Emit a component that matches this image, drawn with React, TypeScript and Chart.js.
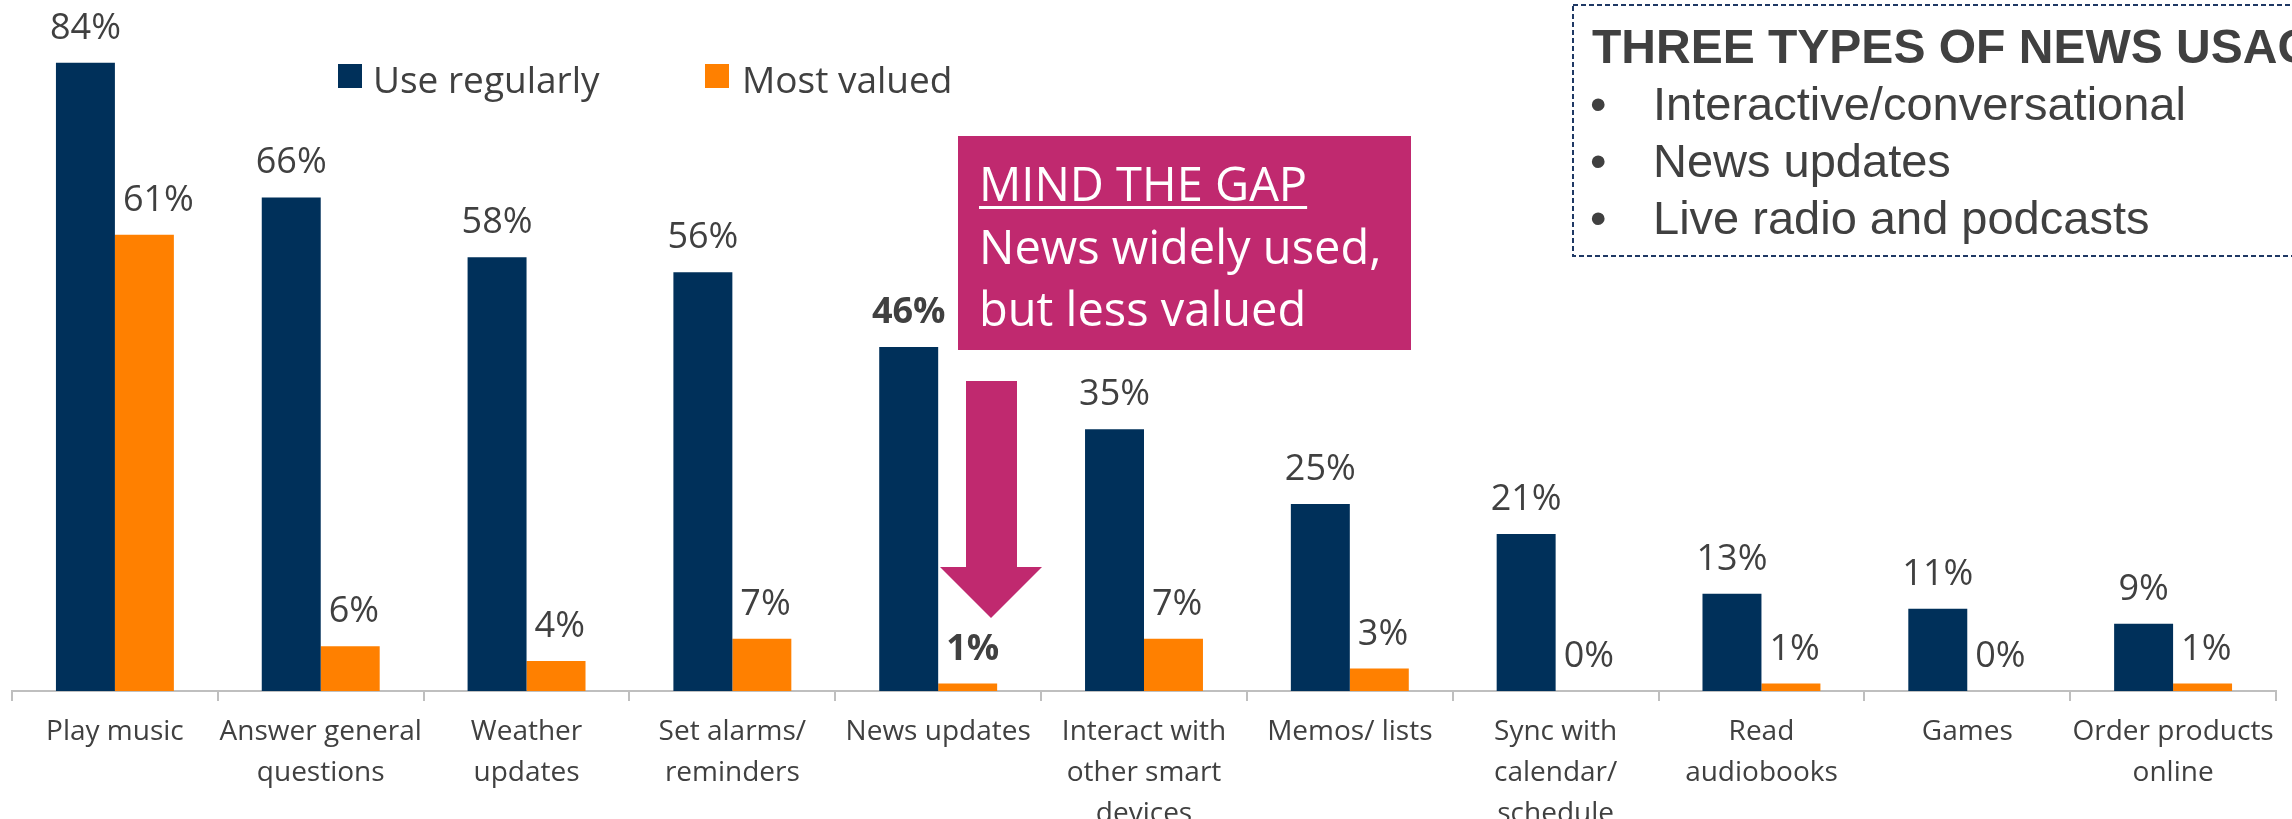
import { useEffect, useRef } from 'react';
import { Chart, registerables } from 'chart.js';

Chart.register(...registerables);

const categories: (string | string[])[] = [
  'Play music',
  ['Answer general', 'questions'],
  ['Weather', 'updates'],
  ['Set alarms/', 'reminders'],
  'News updates',
  ['Interact with', 'other smart', 'devices'],
  'Memos/ lists',
  ['Sync with', 'calendar/', 'schedule'],
  ['Read', 'audiobooks'],
  'Games',
  ['Order products', 'online'],
];
const useRegularly = [84, 66, 58, 56, 46, 35, 25, 21, 13, 11, 9];
const mostValued = [61, 6, 4, 7, 1, 7, 3, 0, 1, 0, 1];
const seriesNames = ['Use regularly', 'Most valued'];
const highlightIndex = 4;
const yMax = 90;

const boxTitle = 'THREE TYPES OF NEWS USAGE';
const boxBullets = ['Interactive/conversational', 'News updates', 'Live radio and podcasts'];
const gapTitle = 'MIND THE GAP';
const gapLines = ['News widely used,', 'but less valued'];

const NAVY = '#00305A';
const ORANGE = '#FF8000';
const MAGENTA = '#C0296F';
const TEXT = '#404040';
const FONT = '"Open Sans", sans-serif';

const labelsPlugin = {
  id: 'barLabels',
  afterDatasetsDraw(chart: any) {
    const ctx = chart.ctx;
    ctx.save();
    ctx.fillStyle = TEXT;
    ctx.textAlign = 'center';
    ctx.textBaseline = 'alphabetic';
    const navyMeta = chart.getDatasetMeta(0);
    chart.data.datasets.forEach((ds: any, di: number) => {
      const meta = chart.getDatasetMeta(di);
      meta.data.forEach((bar: any, i: number) => {
        const bold = i === highlightIndex;
        ctx.font = `${bold ? 'bold ' : ''}36px ${FONT}`;
        const txt = `${ds.data[i]}%`;
        const y = bar.y - 24;
        let x = bar.x;
        if (di === 1) {
          const nb = navyMeta.data[i];
          const w = ctx.measureText(txt).width;
          const navyRight = nb.x + nb.width / 2;
          if (nb.y < y && x - w / 2 < navyRight + 8) x = navyRight + 8 + w / 2;
        }
        ctx.fillText(txt, x, y);
      });
    });
    ctx.restore();
  },
};

const legendPlugin = {
  id: 'customLegend',
  afterDraw(chart: any) {
    const ctx = chart.ctx;
    ctx.save();
    const items = [
      { x: 338, textX: 373 },
      { x: 705, textX: 742 },
    ];
    chart.data.datasets.forEach((ds: any, di: number) => {
      const it = items[di];
      ctx.fillStyle = ds.backgroundColor;
      ctx.fillRect(it.x, 64, 24, 24);
      ctx.fillStyle = TEXT;
      ctx.font = `37px ${FONT}`;
      ctx.textAlign = 'left';
      ctx.textBaseline = 'alphabetic';
      ctx.fillText(ds.label, it.textX, 93);
    });
    ctx.restore();
  },
};

const annotationPlugin = {
  id: 'annotations',
  afterDraw(chart: any) {
    const ctx = chart.ctx;
    ctx.save();
    // Mind the gap box
    ctx.fillStyle = MAGENTA;
    ctx.fillRect(958, 136, 453, 214);
    ctx.fillStyle = '#FFFFFF';
    ctx.font = `47px ${FONT}`;
    ctx.textAlign = 'left';
    ctx.textBaseline = 'alphabetic';
    ctx.fillText(gapTitle, 979, 201);
    const w = ctx.measureText(gapTitle).width;
    ctx.fillRect(979, 206, w, 3);
    gapLines.forEach((l, i) => ctx.fillText(l, 979, 264 + i * 62));

    // Arrow
    ctx.fillStyle = MAGENTA;
    ctx.beginPath();
    ctx.moveTo(966, 381);
    ctx.lineTo(1017, 381);
    ctx.lineTo(1017, 567);
    ctx.lineTo(1042, 567);
    ctx.lineTo(991, 618);
    ctx.lineTo(940, 567);
    ctx.lineTo(966, 567);
    ctx.closePath();
    ctx.fill();

    // Dashed box
    ctx.strokeStyle = '#1F3864';
    ctx.lineWidth = 2;
    ctx.setLineDash([5, 3]);
    ctx.strokeRect(1573, 5, 760, 251);
    ctx.setLineDash([]);
    ctx.fillStyle = TEXT;
    ctx.font = `bold 48px "Liberation Sans", Arial, sans-serif`;
    ctx.fillText(boxTitle, 1592, 63);
    ctx.font = `47px "Liberation Sans", Arial, sans-serif`;
    boxBullets.forEach((b, i) => {
      const y = 120 + i * 57;
      ctx.fillText('\u2022', 1590, y);
      ctx.fillText(b, 1653, y);
    });
    ctx.restore();
  },
};

export default function App() {
  const ref = useRef<HTMLCanvasElement>(null);
  useEffect(() => {
    if (!ref.current) return;
    const chart = new Chart(ref.current, {
      type: 'bar',
      data: {
        labels: categories as any,
        datasets: [
          { label: seriesNames[0], data: useRegularly, backgroundColor: NAVY, barPercentage: 1, categoryPercentage: 0.573 },
          { label: seriesNames[1], data: mostValued, backgroundColor: ORANGE, barPercentage: 1, categoryPercentage: 0.573 },
        ],
      },
      options: {
        responsive: false,
        animation: false,
        layout: { padding: { left: 12, right: 16, top: 18, bottom: 0 } },
        plugins: { legend: { display: false }, tooltip: { enabled: false } },
        scales: {
          x: {
            offset: true,
            grid: {
              display: true,
              drawOnChartArea: false,
              drawTicks: true,
              tickLength: 10,
              offset: true,
              color: '#BFBFBF',
              lineWidth: 2,
            },
            border: { display: true, color: '#BFBFBF', width: 2 },
            ticks: {
              color: TEXT,
              font: { family: FONT, size: 28, lineHeight: 41 / 28 },
              padding: 11,
              maxRotation: 0,
              minRotation: 0,
              autoSkip: false,
            },
            afterFit: (s: any) => {
              s.height = 128;
            },
          },
          y: { display: false, min: 0, max: yMax },
        },
      },
      plugins: [labelsPlugin, legendPlugin, annotationPlugin],
    });
    return () => chart.destroy();
  }, []);
  return (
    <div style={{ position: 'fixed', left: 0, top: 0, width: 2292, height: 819, background: '#fff' }}>
      <canvas ref={ref} width={2292} height={819} style={{ width: 2292, height: 819, display: 'block' }} />
    </div>
  );
}
